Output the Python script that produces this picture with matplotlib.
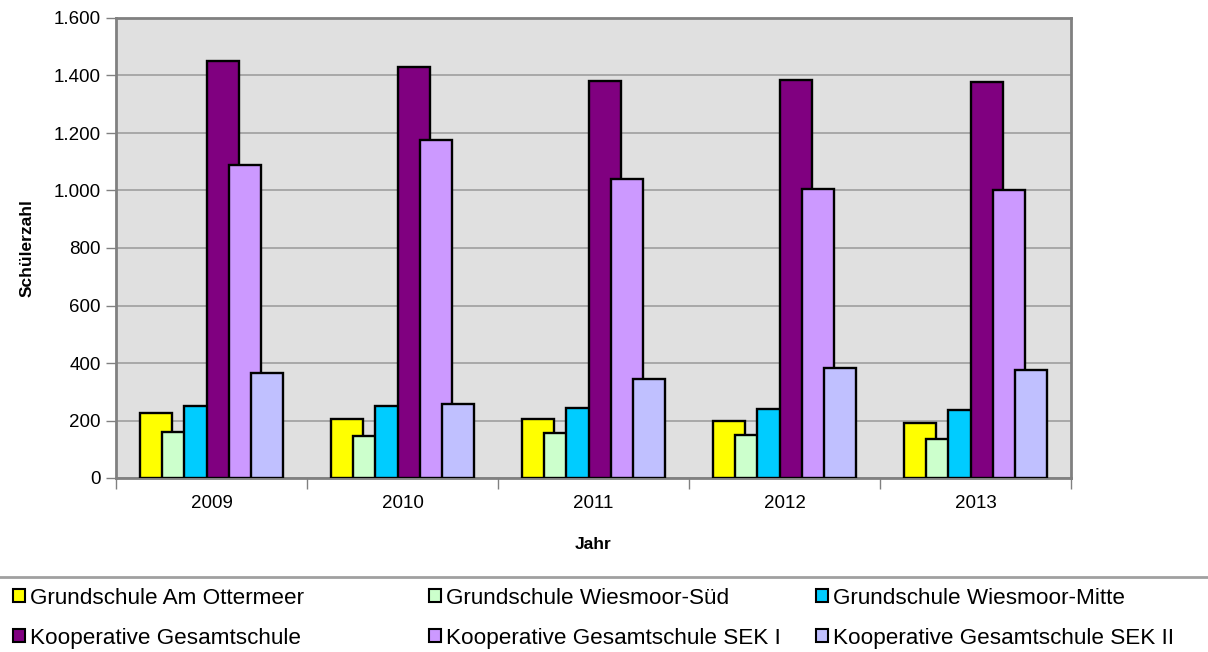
import matplotlib
matplotlib.use("Agg")
import matplotlib.pyplot as plt
import numpy as np
from matplotlib.patches import Patch

plt.rcParams['font.family'] = ['Liberation Sans', 'DejaVu Sans']

years = ["2009", "2010", "2011", "2012", "2013"]
series_names = [
    "Grundschule Am Ottermeer",
    "Grundschule Wiesmoor-Süd",
    "Grundschule Wiesmoor-Mitte",
    "Kooperative Gesamtschule",
    "Kooperative Gesamtschule SEK I",
    "Kooperative Gesamtschule SEK II",
]
am_ottermeer = [225, 205, 205, 200, 192]
wiesmoor_sued = [161, 146, 155, 148, 135]
wiesmoor_mitte = [250, 249, 245, 240, 237]
kgs = [1450, 1428, 1381, 1384, 1376]
kgs_sek1 = [1089, 1176, 1041, 1005, 1003]
kgs_sek2 = [365, 256, 343, 383, 376]
values = [am_ottermeer, wiesmoor_sued, wiesmoor_mitte, kgs, kgs_sek1, kgs_sek2]
colors = ["#FFFF00", "#CCFFCC", "#00CCFF", "#800080", "#CC99FF", "#C0C0FF"]

fig = plt.figure(figsize=(12.08, 6.52), dpi=100)
ax = fig.add_axes([116/1208, 1 - 478/652, (1071-116)/1208, (478-18)/652])
ax.set_facecolor("#E0E0E0")

x = np.arange(len(years))
width = 0.1675
step = 0.1168
n = len(values)
offsets = (np.arange(n) - (n - 1) / 2) * step
for i, (vals, col) in enumerate(zip(values, colors)):
    ax.bar(x + offsets[i], vals, width=width, color=col, edgecolor="black",
           linewidth=1.7, zorder=3 + i, label=series_names[i])

ax.set_xlim(-0.5, len(years) - 0.5)
ax.set_ylim(0, 1600)
yt = np.arange(0, 1601, 200)
ax.set_yticks(yt)
ax.set_yticklabels([f"{v:,}".replace(",", ".") for v in yt], fontsize=13.5)
ax.yaxis.grid(True, color="#999999", linewidth=1.1, zorder=1)
ax.set_axisbelow(True)

ax.set_xticks(x)
ax.set_xticklabels(years, fontsize=13.5)
ax.tick_params(axis='x', which='major', length=0, pad=12)
ax.set_xticks(np.arange(-0.5, len(years) + 0.5, 1), minor=True)
ax.tick_params(axis='x', which='minor', length=8, width=1, color="#808080", direction='out')
ax.tick_params(axis='y', length=7, width=1, color="#808080", direction='out', pad=4)

for s in ax.spines.values():
    s.set_color("#808080")
    s.set_linewidth(2)

ax.set_ylabel("Schülerzahl", fontsize=12.5, fontweight='bold', labelpad=14)
ax.set_xlabel("Jahr", fontsize=12.5, fontweight='bold', labelpad=18)

# separator line above legend
fig.add_artist(plt.Line2D([0, 1], [1 - 577/652, 1 - 577/652], color="#A0A0A0", linewidth=2,
                          transform=fig.transFigure))

col_x = [8/1208, 424/1208, 811/1208]
for c in range(3):
    handles = []
    labels = []
    for r in range(2):
        idx = r * 3 + c
        handles.append(Patch(facecolor=colors[idx], edgecolor="black", linewidth=1.5))
        labels.append(series_names[idx])
    fig.legend(handles, labels, loc='upper left', bbox_to_anchor=(col_x[c], 1 - 583/652),
               frameon=False, fontsize=16.2, handlelength=0.55, handleheight=0.55,
               handletextpad=0.22, labelspacing=0.85, borderaxespad=0, borderpad=0.2)

fig.savefig("out.png", dpi=100)
